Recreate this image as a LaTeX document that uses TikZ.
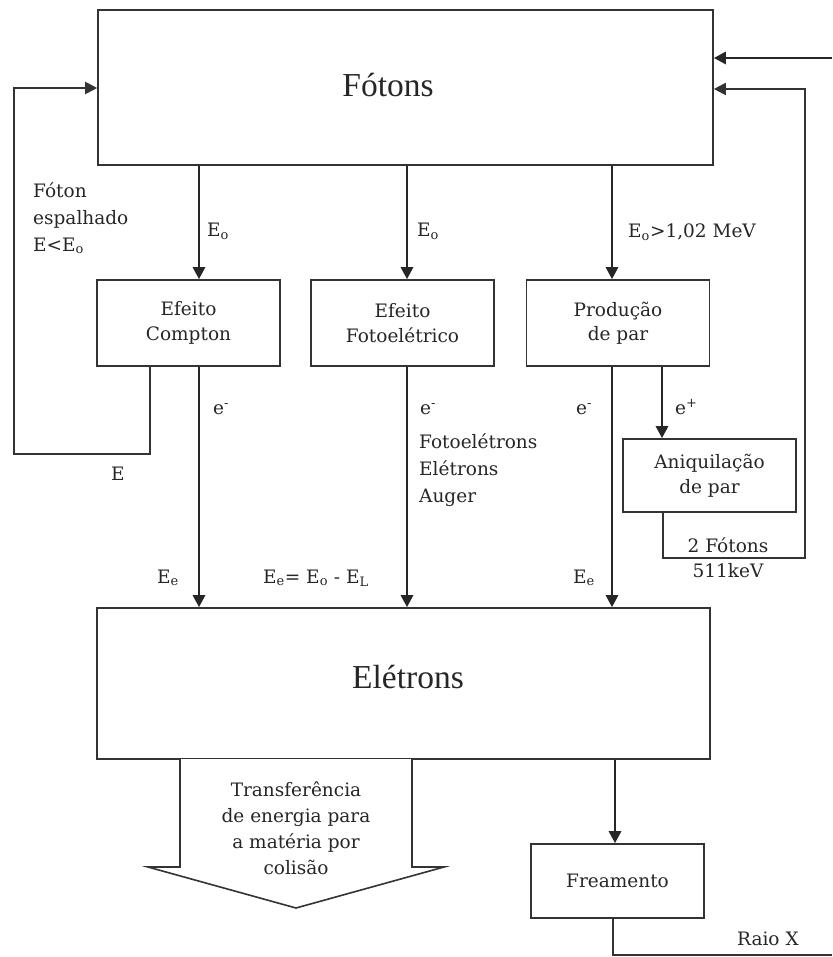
\documentclass[tikz,border=0pt]{standalone}
\usepackage{fontspec}
\setmainfont{DejaVu Serif}
\newfontfamily\titlefont{Liberation Serif}
\usetikzlibrary{arrows.meta}

\begin{document}
\begin{tikzpicture}[x=1pt,y=-1pt,
  caixa/.style={draw=black!80, line width=1.6pt, inner sep=0pt, align=center, text=black!85,
    font=\fontsize{18.5}{24.5}\selectfont},
  seta/.style={draw=black!85, line width=2.8pt, -{Triangle[length=12pt,width=12pt]}},
  volta/.style={draw=black!80, line width=2pt, -{Triangle[length=12pt,width=12pt]}},
  linha/.style={draw=black!80, line width=1.6pt},
  rotulo/.style={font=\fontsize{18.5}{27}\selectfont, inner sep=0pt, text=black!85},
  titulo/.style={font=\titlefont\fontsize{33.5}{40}\selectfont, inner sep=0pt, text=black!85}]
\useasboundingbox (0,0) rectangle (832,957);

%Shape: Rectangle [Fotons]
\node[caixa, minimum width=615pt, minimum height=155pt] (fotons) at (405.5,87.5) {};
%Shape: Rectangle [Compton]
\node[caixa, minimum width=183pt, minimum height=86pt] (compton) at (188.5,323) {Efeito\\Compton};
%Shape: Rectangle [Fotoeletrico]
\node[caixa, minimum width=183pt, minimum height=86pt] (fotoel) at (402.5,323) {Efeito\\Fotoelétrico};
%Shape: Rectangle [Producao]
\node[caixa, minimum width=183pt, minimum height=86pt] (producao) at (618,323) {Produção\\de par};
%Shape: Rectangle [Aniquilacao]
\node[caixa, minimum width=173pt, minimum height=73pt] (aniq) at (709.5,475.5) {Aniquilação\\de par};
%Shape: Rectangle [Eletrons]
\node[caixa, minimum width=613pt, minimum height=151pt] (eletrons) at (403.5,683.5) {};
%Shape: Rectangle [Freamento]
\node[caixa, minimum width=173pt, minimum height=74pt] (freamento) at (617.5,881) {Freamento};

% columns of the connectors
\coordinate (xa) at (199,0);
\coordinate (xb) at (407,0);
\coordinate (xc) at (612,0);
\coordinate (xd) at (662,0);
\coordinate (xe) at (615,0);
\coordinate (xf) at (150,0);
\coordinate (xg) at (663,0);
\coordinate (xh) at (613,0);
\coordinate (ya) at (0,88);
\coordinate (yb) at (0,89);
\coordinate (cantoE) at (14,454);
\coordinate (cantoD) at (805,558);
\coordinate (entrada) at (832,58);
\coordinate (saidaX) at (832,955);

%Straight Lines
\draw[seta] (fotons.south -| xa) -- (compton.north -| xa);
\draw[seta] (fotons.south -| xb) -- (fotoel.north -| xb);
\draw[seta] (fotons.south -| xc) -- (producao.north -| xc);
\draw[seta] (producao.south -| xd) -- (aniq.north -| xd);
\draw[seta] (compton.south -| xa) -- (eletrons.north -| xa);
\draw[seta] (fotoel.south -| xb) -- (eletrons.north -| xb);
\draw[seta] (producao.south -| xc) -- (eletrons.north -| xc);
\draw[seta] (eletrons.south -| xe) -- (freamento.north -| xe);
\draw[seta] (entrada) -- (fotons.east |- entrada);

%Straight Lines [loops back to Fotons]
\draw[volta] (compton.south -| xf) |- (cantoE) |- (fotons.west |- ya);
\draw[volta] (aniq.south -| xg) |- (cantoD) |- (fotons.east |- yb);
\draw[linha] (freamento.south -| xh) |- (saidaX);

%Shape: Down Arrow
\draw[linha, fill=white] (180,759) -- (180,867) -- (148,867) -- (296,908) -- (444,867) -- (412,867) -- (412,759);

% Text Node
\node[titulo, anchor=base] (tFotons) at (388,97) {Fótons};
% Text Node
\node[titulo, anchor=base] (tEletrons) at (408,688) {Elétrons};
% Text Node
\node[rotulo, anchor=base west] (eo1) at (207,237) {E\textsubscript{o}};
% Text Node
\node[rotulo, anchor=base west] (eo2) at (417,237) {E\textsubscript{o}};
% Text Node
\node[rotulo, anchor=base west] (eo3) at (628,238) {E\textsubscript{o}>1,02 MeV};
% Text Node
\node[rotulo, anchor=west, align=left] (espalhado) at (33,218) {Fóton\\espalhado\\E<E\textsubscript{o}};
% Text Node
\node[rotulo] (eBaixo) at (118,474) {E};
% Text Node
\node[rotulo, anchor=base west] (em1) at (213,414) {e\textsuperscript{-}};
% Text Node
\node[rotulo, anchor=base west] (em2) at (420,414) {e\textsuperscript{-}};
% Text Node
\node[rotulo, anchor=base west] (em3) at (576,414) {e\textsuperscript{-}};
% Text Node
\node[rotulo, anchor=base west] (ep) at (675,414) {e\textsuperscript{+}};
% Text Node
\node[rotulo, anchor=west, align=left] (auger) at (419,470) {Fotoelétrons\\Elétrons\\Auger};
% Text Node
\node[rotulo, anchor=base west] (ee1) at (157,583) {E\textsubscript{e}};
% Text Node
\node[rotulo, anchor=base west] (ee2) at (263,583) {E\textsubscript{e}= E\textsubscript{o} - E\textsubscript{L}};
% Text Node
\node[rotulo, anchor=base west] (ee3) at (573,583) {E\textsubscript{e}};
% Text Node
\node[rotulo, align=center, font=\fontsize{18.5}{25}\selectfont] (doisFotons) at (728,558) {2 Fótons\\511keV};
% Text Node
\node[rotulo, align=center, font=\fontsize{18.5}{26}\selectfont] (transf) at (296,828) {Transferência\\de energia para\\a matéria por\\colisão};
% Text Node
\node[rotulo, anchor=base west] (raioX) at (737,945) {Raio X};

\end{tikzpicture}
\end{document}
